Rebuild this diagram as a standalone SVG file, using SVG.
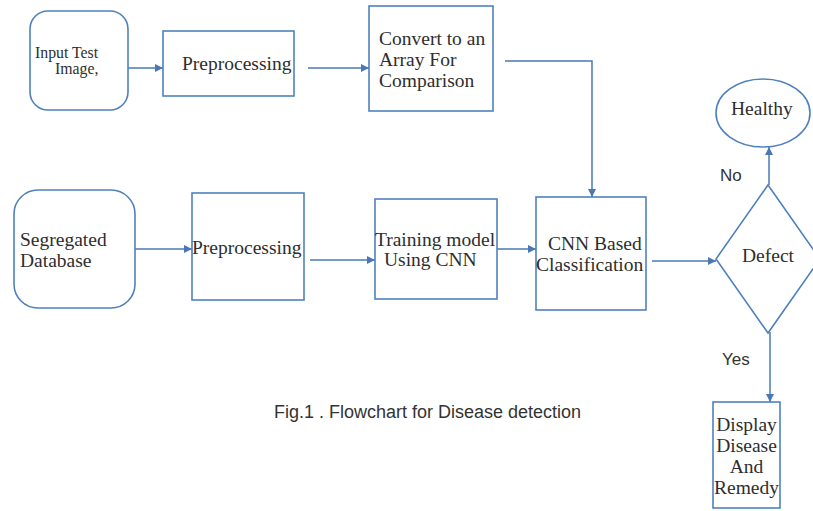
<svg xmlns="http://www.w3.org/2000/svg" width="813" height="511" viewBox="0 0 813 511">
<defs>
<marker id="ah" viewBox="0 0 10 10" refX="10" refY="5" markerWidth="9" markerHeight="8" markerUnits="userSpaceOnUse" orient="auto">
<path d="M0,0 L10,5 L0,10 z" fill="#4a78b5"/>
</marker>
</defs>
<style>
.n{fill:#fff;stroke:#4f81bd;stroke-width:1.6}
.t{font-family:"Liberation Serif",serif;font-size:19.5px;fill:#2e2e2e}
.s{font-family:"Liberation Sans",Arial,sans-serif;fill:#333}
.c{fill:none;stroke:#4a78b5;stroke-width:1.5}
</style>
<rect width="813" height="511" fill="#fff"/>
<g id="connectors">
<line class="c" x1="128" y1="68" x2="163" y2="68" marker-end="url(#ah)"/>
<line class="c" x1="308" y1="68" x2="369" y2="68" marker-end="url(#ah)"/>
<polyline class="c" points="505,61 592,61 592,197" marker-end="url(#ah)"/>
<line class="c" x1="135" y1="249" x2="192" y2="249" marker-end="url(#ah)"/>
<line class="c" x1="310" y1="260" x2="375" y2="260" marker-end="url(#ah)"/>
<line class="c" x1="494" y1="249" x2="536" y2="249" marker-end="url(#ah)"/>
<line class="c" x1="652" y1="261" x2="716" y2="261" marker-end="url(#ah)"/>
<line class="c" x1="769" y1="185" x2="769" y2="147" marker-end="url(#ah)"/>
<line class="c" x1="770" y1="332" x2="770" y2="402" marker-end="url(#ah)"/>
</g>
<g id="input">
<rect class="n" x="30" y="11" width="98" height="99" rx="18"/>
<text class="t" style="font-size:15.8px" x="35" y="58">Input Test</text>
<text class="t" style="font-size:15.8px" x="55" y="74">Image,</text>
</g>
<g id="pre1">
<rect class="n" x="163" y="31" width="131" height="65"/>
<text class="t" x="182" y="70">Preprocessing</text>
</g>
<g id="convert">
<rect class="n" x="369" y="6" width="124" height="105"/>
<text class="t" x="379" y="45">Convert to an</text>
<text class="t" x="379" y="66">Array For</text>
<text class="t" x="379" y="87">Comparison</text>
</g>
<g id="segregated">
<rect class="n" x="14" y="190" width="121" height="118" rx="24"/>
<text class="t" x="20" y="246">Segregated</text>
<text class="t" x="20" y="267">Database</text>
</g>
<g id="pre2">
<rect class="n" x="192" y="193" width="112" height="107"/>
<text class="t" x="192" y="254">Preprocessing</text>
</g>
<g id="training">
<rect class="n" x="375" y="199" width="122" height="100"/>
<text class="t" x="375" y="246">Training model</text>
<text class="t" x="384" y="266">Using CNN</text>
</g>
<g id="cnn">
<rect class="n" x="536" y="197" width="110" height="113"/>
<text class="t" x="548" y="250">CNN Based</text>
<text class="t" x="536" y="271">Classification</text>
</g>
<g id="defect">
<polygon class="n" points="768,185 820,259 768,333 716,259"/>
<text class="t" x="742" y="262">Defect</text>
</g>
<g id="healthy">
<ellipse class="n" cx="763" cy="113" rx="47" ry="34"/>
<text class="t" x="731" y="115">Healthy</text>
</g>
<g id="display">
<rect class="n" x="713" y="402" width="67" height="106"/>
<text class="t" x="746.5" y="431" text-anchor="middle">Display</text>
<text class="t" x="746.5" y="452" text-anchor="middle">Disease</text>
<text class="t" x="746.5" y="473" text-anchor="middle">And</text>
<text class="t" x="746.5" y="494" text-anchor="middle">Remedy</text>
</g>
<g id="labels">
<text class="s" x="720" y="181" font-size="17">No</text>
<text class="s" x="722" y="365" font-size="17">Yes</text>
<text class="s" x="274" y="418" font-size="18">Fig.1 . Flowchart for Disease detection</text>
</g>
</svg>
